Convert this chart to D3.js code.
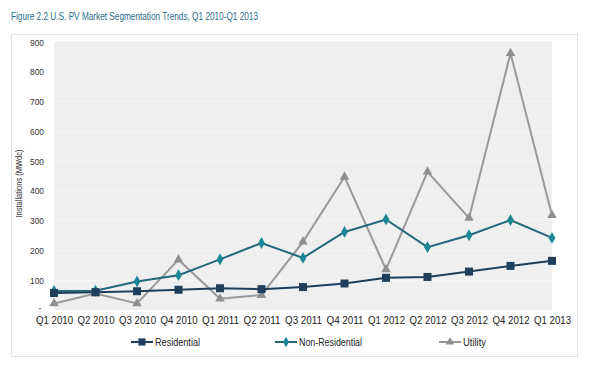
<!DOCTYPE html>
<html><head><meta charset="utf-8">
<script src="https://cdn.jsdelivr.net/npm/d3@7"></script>
<style>body{margin:0;background:#fff;}svg{display:block;}</style>
</head><body>
<script>
const categories = ["Q1 2010","Q2 2010","Q3 2010","Q4 2010","Q1 2011","Q2 2011","Q3 2011","Q4 2011","Q1 2012","Q2 2012","Q3 2012","Q4 2012","Q1 2013"];
const residential = [57,60,63,68,73,70,77,89,108,111,129,148,165];
const nonResidential = [64,65,96,117,170,225,175,262,304,211,251,302,242];
const utility = [22,55,22,169,38,50,229,447,136,464,309,862,318];
const yTicks = [100,200,300,400,500,600,700,800,900];

const W=600,H=379;
const font = "'Liberation Sans',Arial,sans-serif";
const svg = d3.select("body").append("svg").attr("width",W).attr("height",H);
svg.append("rect").attr("width",W).attr("height",H).attr("fill","#fff");

svg.append("text").attr("x",11).attr("y",20).attr("font-family",font).attr("font-size",11.5)
  .attr("fill","#2a6d8a").attr("textLength",247).attr("lengthAdjust","spacingAndGlyphs")
  .text("Figure 2.2  U.S. PV Market Segmentation Trends, Q1 2010-Q1 2013");

svg.append("rect").attr("x",11.5).attr("y",34.5).attr("width",566).attr("height",322)
  .attr("fill","#fff").attr("stroke","#e4e4e4");

const L=54,R=552,T=41,B=310;
const x = d3.scalePoint().domain(categories).range([L,R]);
const y = d3.scaleLinear().domain([0,900]).range([B,T+1]);

svg.append("rect").attr("x",L).attr("y",T).attr("width",R-L).attr("height",B-T).attr("fill","#efefef");
svg.append("g").selectAll("line").data(yTicks).join("line")
  .attr("x1",L).attr("x2",R).attr("y1",d=>y(d)).attr("y2",d=>y(d)).attr("stroke","#f5f5f5").attr("stroke-width",1);

const yAxis = svg.append("g").attr("transform",`translate(${L},0)`)
  .call(d3.axisLeft(y).tickValues(yTicks).tickSize(0).tickPadding(10));
yAxis.select(".domain").remove();
yAxis.selectAll("text").attr("font-family",font).attr("font-size",9.5).attr("fill","#333")
  .attr("textLength",14).attr("lengthAdjust","spacingAndGlyphs");
svg.append("text").attr("x",40).attr("y",B+1).attr("font-family",font).attr("font-size",9).attr("fill","#333").attr("text-anchor","middle").text("-");

const xAxis = svg.append("g").attr("transform",`translate(0,${B})`)
  .call(d3.axisBottom(x).tickSize(0).tickPadding(6));
xAxis.select(".domain").remove();
xAxis.selectAll("text").attr("font-family",font).attr("font-size",11.5).attr("fill","#222")
  .attr("textLength",37).attr("lengthAdjust","spacingAndGlyphs");

svg.append("text").attr("transform",`translate(22,${(T+B)/2+8}) rotate(-90)`).attr("text-anchor","middle")
  .attr("font-family",font).attr("font-size",9.5).attr("fill","#333")
  .attr("textLength",68).attr("lengthAdjust","spacingAndGlyphs").text("Installations (MWdc)");

const series = [
  {name:"Residential", vals:residential, color:"#1d3f5c", mcolor:"#1d3f5c", sym:d3.symbolSquare, size:64, lx:131, tl:45},
  {name:"Non-Residential", vals:nonResidential, color:"#22687a", mcolor:"#1b8796", sym:d3.symbolDiamond, size:40, lx:275, tl:63},
  {name:"Utility", vals:utility, color:"#999999", mcolor:"#8f8f8f", sym:d3.symbolTriangle, size:40, lx:439, tl:23}
];
const line = d3.line().x((d,i)=>x(categories[i])).y(d=>y(d));
[series[2],series[1],series[0]].forEach(s=>{
  const g = svg.append("g");
  g.append("path").attr("d",line(s.vals)).attr("fill","none").attr("stroke",s.color).attr("stroke-width",2);
  g.selectAll("path.m").data(s.vals).join("path").attr("class","m")
    .attr("transform",(d,i)=>`translate(${x(categories[i])},${y(d)})`)
    .attr("d",d3.symbol(s.sym,s.size)).attr("fill",s.mcolor);
});

series.forEach(s=>{
  const ly=342;
  svg.append("line").attr("x1",s.lx).attr("x2",s.lx+22).attr("y1",ly).attr("y2",ly).attr("stroke",s.color).attr("stroke-width",2);
  svg.append("path").attr("transform",`translate(${s.lx+11},${ly})`).attr("d",d3.symbol(s.sym,s.size*0.8)).attr("fill",s.mcolor);
  svg.append("text").attr("x",s.lx+24).attr("y",ly+4).attr("font-family",font).attr("font-size",11).attr("fill","#222")
    .attr("textLength",s.tl).attr("lengthAdjust","spacingAndGlyphs").text(s.name);
});
</script>
</body></html>
